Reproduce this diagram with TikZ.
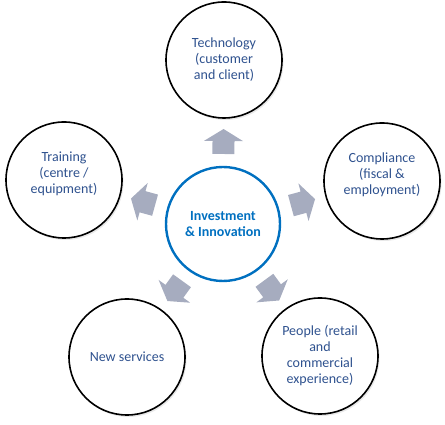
\documentclass[tikz,border=0pt]{standalone}
\usepackage{fontspec}
\setmainfont{Carlito}
\usetikzlibrary{calc,shadows}
\definecolor{txtblue}{RGB}{47,82,143}
\definecolor{ctrblue}{RGB}{0,112,192}
\definecolor{arrowgray}{RGB}{166,172,191}
\tikzset{
  outertext/.style={align=center, text=txtblue, font=\fontsize{14pt}{16pt}\selectfont},
  outer/.style={circle, draw=black, line width=1.6pt, fill=white, minimum size=116pt, inner sep=0pt,
    outertext,
    drop shadow={opacity=0.18, shadow xshift=1.5pt, shadow yshift=-2pt}},
  center/.style={circle, draw=ctrblue, line width=2.4pt, fill=white, minimum size=114pt, inner sep=0pt,
    align=center, text=ctrblue, font=\fontsize{14pt}{15.5pt}\selectfont\bfseries},
  blockarrow/.style={fill=arrowgray, draw=none}
}
\begin{document}
\begin{tikzpicture}[x=1pt,y=1pt]
\useasboundingbox (0,0) rectangle (445,425);
\node[center] (c) at (223,201) {Investment\\\& Innovation};
\node[outer] (tech) at (224,365) {Technology\\(customer\\and client)};
\node[outer, label={[outertext, yshift=6pt]center:Training\\(centre /\\equipment)}] (train) at (64,245) {};
\node[outer, label={[outertext, yshift=6pt]center:Compliance\\(fiscal \&\\employment)}] (comp) at (382,244) {};
\node[outer] (news) at (127,68) {New services};
\node[outer] (people) at (320,69) {People (retail\\and\\commercial\\experience)};
\foreach \o in {tech,train,comp,news,people}{
  \path let \p1=($(\o)-(c)$), \n1={atan2(\y1,\x1)} in
    coordinate (m-\o) at ($(c)!0.5!(\o)$)
    [shift={(m-\o)}, rotate=\n1]
    [blockarrow] (-12,-11) -- (1,-11) -- (1,-19.5) -- (13,0) -- (1,19.5) -- (1,11) -- (-12,11) -- cycle;
}
\end{tikzpicture}
\end{document}
